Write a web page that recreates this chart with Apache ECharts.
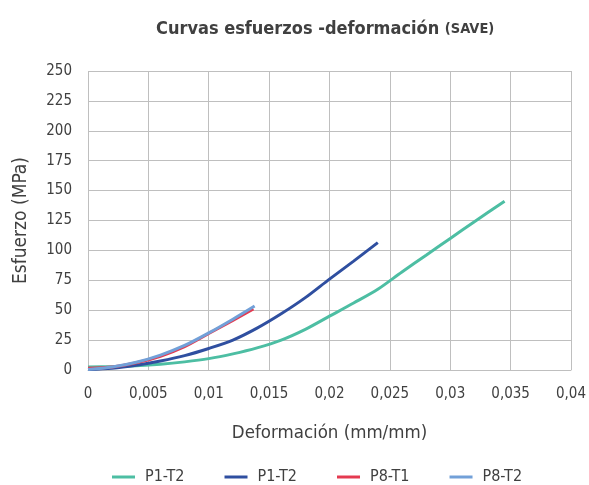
<!DOCTYPE html>
<html><head><meta charset="utf-8">
<script src="https://cdn.jsdelivr.net/npm/echarts@6/dist/echarts.min.js"></script>
<style>html,body{margin:0;padding:0;background:#fff}#c{width:589px;height:485px}</style>
</head><body><div id="c"></div>
<script>
var seriesNames = ['P1-T2', 'P1-T2 ', 'P8-T1', 'P8-T2'];
var legendLabels = ['P1-T2', 'P1-T2', 'P8-T1', 'P8-T2'];
var p1t2a = [[0,2.5],[0.002,2.8],[0.004,3.5],[0.006,4.8],[0.008,6.8],[0.010,9.5],[0.012,13.5],[0.014,18.5],[0.016,25],[0.018,34],[0.020,45],[0.022,56],[0.024,67.5],[0.026,82],[0.028,96],[0.030,110],[0.032,124],[0.0345,141]];
var p1t2b = [[0,0.5],[0.002,1.5],[0.004,4],[0.006,7.5],[0.008,12],[0.010,18],[0.012,25],[0.014,35],[0.016,47],[0.018,60.5],[0.020,76],[0.022,91],[0.024,106.5]];
var p8t1 = [[0,1.5],[0.002,2.5],[0.004,6],[0.006,11.5],[0.008,19.5],[0.010,30.5],[0.012,41.5],[0.0137,51]];
var p8t2 = [[0,0.5],[0.002,2.5],[0.004,6.5],[0.006,12.5],[0.008,20.5],[0.010,31],[0.012,42.5],[0.0138,53.5]];
var colors = ['#4dbea3', '#2f4fa0', '#e43a50', '#72a0d8'];
var allData = [p1t2a, p1t2b, p8t1, p8t2];
var font = '"DejaVu Sans Condensed", "Liberation Sans Narrow", sans-serif';
var chart = echarts.init(document.getElementById('c'), null, {renderer: 'canvas'});
chart.setOption({
  animation: false,
  title: {
    text: 'Curvas esfuerzos -deformación {s|(SAVE)}',
    left: 151, top: 15,
    textStyle: {fontFamily: font, fontWeight: 'bold', fontSize: 18, color: '#404040',
      rich: {s: {fontFamily: font, fontWeight: 'bold', fontSize: 14.5, color: '#404040'}}}
  },
  grid: {left: 88, right: 18, top: 71, bottom: 115},
  legend: {
    bottom: -5, left: 107, itemGap: 40, itemWidth: 23, itemHeight: 3,
    icon: 'rect',
    data: seriesNames,
    formatter: function (n) { return legendLabels[seriesNames.indexOf(n)]; },
    textStyle: {fontFamily: font, fontSize: 16, color: '#404040', padding: [0,0,0,5]}
  },
  xAxis: {
    type: 'value', min: 0, max: 0.04, interval: 0.005,
    name: 'Deformación (mm/mm)', nameLocation: 'middle', nameGap: 54,
    nameTextStyle: {fontFamily: font, fontSize: 18.5, color: '#404040'},
    axisLine: {show: true, lineStyle: {color: '#bfbfbf'}},
    axisTick: {show: false},
    splitLine: {show: true, lineStyle: {color: '#bfbfbf', width: 1}},
    axisLabel: {fontFamily: font, fontSize: 15, color: '#404040', margin: 17,
      formatter: function (v) { return String(+v.toFixed(3)).replace('.', ','); }}
  },
  yAxis: {
    type: 'value', min: 0, max: 250, interval: 25,
    name: 'Esfuerzo (MPa)', nameLocation: 'middle', nameGap: 57,
    nameTextStyle: {fontFamily: font, fontSize: 19, color: '#404040'},
    axisLine: {show: false}, axisTick: {show: false},
    splitLine: {show: true, lineStyle: {color: '#bfbfbf', width: 1}},
    axisLabel: {fontFamily: font, fontSize: 15, color: '#404040', margin: 16}
  },
  series: allData.map(function (d, i) {
    return {
      name: seriesNames[i], type: 'line', data: d, smooth: 0.3,
      showSymbol: false, symbol: 'none',
      lineStyle: {color: colors[i], width: 3}, itemStyle: {color: colors[i]}
    };
  })
});
</script></body></html>
